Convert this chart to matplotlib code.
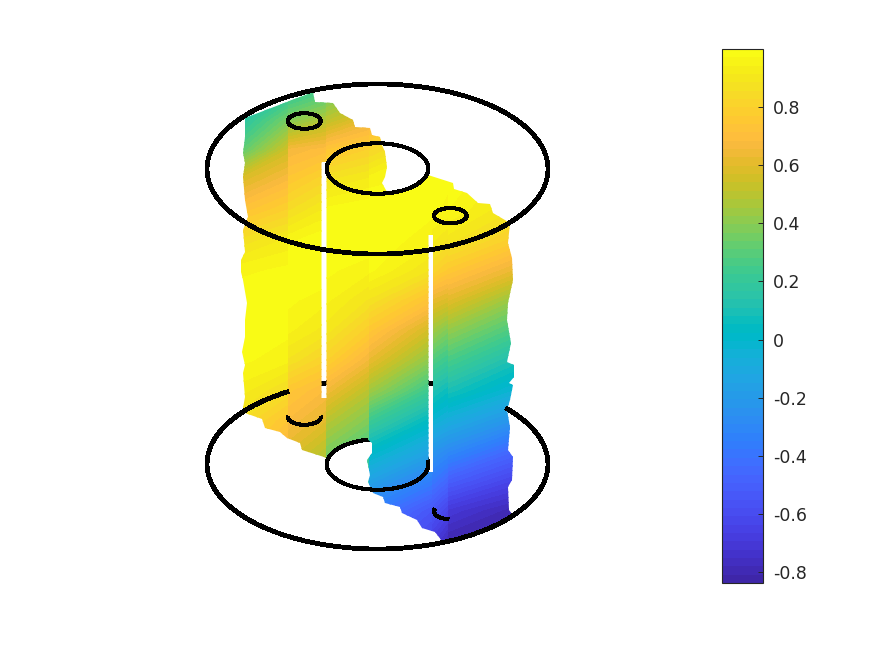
import numpy as np
import matplotlib
matplotlib.use('Agg')
import matplotlib.pyplot as plt
from matplotlib.colors import LinearSegmentedColormap, Normalize
from matplotlib.cm import ScalarMappable
from matplotlib.patches import Arc, Ellipse
from matplotlib.path import Path

## slice through a flange with holes, viewed in perspective

# parula colours
parula = [
    (0.2422, 0.1504, 0.6603), (0.2504, 0.1650, 0.7076), (0.2578, 0.1818, 0.7511), (0.2647, 0.1978, 0.7952),
    (0.2706, 0.2147, 0.8364), (0.2751, 0.2342, 0.8710), (0.2783, 0.2559, 0.8991), (0.2803, 0.2782, 0.9221),
    (0.2813, 0.3006, 0.9414), (0.2810, 0.3228, 0.9579), (0.2795, 0.3447, 0.9717), (0.2760, 0.3667, 0.9829),
    (0.2699, 0.3892, 0.9906), (0.2602, 0.4123, 0.9952), (0.2440, 0.4358, 0.9988), (0.2206, 0.4603, 0.9973),
    (0.1963, 0.4847, 0.9892), (0.1834, 0.5074, 0.9798), (0.1786, 0.5289, 0.9682), (0.1764, 0.5499, 0.9520),
    (0.1687, 0.5703, 0.9359), (0.1540, 0.5902, 0.9218), (0.1460, 0.6091, 0.9079), (0.1380, 0.6276, 0.8973),
    (0.1248, 0.6459, 0.8883), (0.1113, 0.6635, 0.8763), (0.0952, 0.6798, 0.8598), (0.0689, 0.6948, 0.8394),
    (0.0297, 0.7082, 0.8163), (0.0036, 0.7203, 0.7917), (0.0067, 0.7312, 0.7660), (0.0433, 0.7411, 0.7394),
    (0.0964, 0.7500, 0.7120), (0.1408, 0.7584, 0.6842), (0.1717, 0.7670, 0.6554), (0.1938, 0.7758, 0.6251),
    (0.2161, 0.7843, 0.5923), (0.2470, 0.7918, 0.5567), (0.2906, 0.7973, 0.5188), (0.3406, 0.8008, 0.4789),
    (0.3909, 0.8029, 0.4354), (0.4456, 0.8024, 0.3909), (0.5044, 0.7993, 0.3480), (0.5616, 0.7942, 0.3045),
    (0.6174, 0.7876, 0.2612), (0.6720, 0.7793, 0.2227), (0.7242, 0.7698, 0.1910), (0.7738, 0.7598, 0.1646),
    (0.8203, 0.7498, 0.1535), (0.8634, 0.7406, 0.1596), (0.9035, 0.7330, 0.1774), (0.9393, 0.7288, 0.2100),
    (0.9728, 0.7298, 0.2394), (0.9956, 0.7434, 0.2371), (0.9970, 0.7659, 0.2199), (0.9952, 0.7861, 0.1967),
    (0.9892, 0.8086, 0.1816), (0.9786, 0.8318, 0.1700), (0.9676, 0.8561, 0.1533), (0.9598, 0.8813, 0.1340),
    (0.9610, 0.9060, 0.1100), (0.9650, 0.9310, 0.0960), (0.9720, 0.9580, 0.0860), (0.9769, 0.9839, 0.0805),
]

vmin = -0.838
vmax = 1.0
cbar_ticks = [-0.8, -0.6, -0.4, -0.2, 0, 0.2, 0.4, 0.6, 0.8]
cbar_labels = ['-0.8', '-0.6', '-0.4', '-0.2', '0', '0.2', '0.4', '0.6', '0.8']

# heights the values were read at (image rows)
rows = [85, 120, 150, 180, 210, 240, 270, 300, 330, 360, 390, 420, 450, 480, 510, 545]

# the slice is made of strips, each strip read along its left and right side
strip_a_x = [240, 288]
strip_a_l = [0.05, 0.15, 0.30, 0.58, 0.72, 0.86, 0.96, 1.00, 1.00, 0.98, 0.93, 0.86, 0.80, 0.70, 0.60, 0.50]
strip_a_r = [0.12, 0.36, 0.55, 0.68, 0.80, 0.92, 0.98, 1.00, 0.98, 0.95, 0.85, 0.74, 0.65, 0.55, 0.45, 0.35]
strip_b_x = [288, 326]
strip_b_l = [0.14, 0.38, 0.66, 0.75, 0.85, 0.96, 1.00, 0.98, 0.95, 0.88, 0.75, 0.68, 0.60, 0.50, 0.40, 0.30]
strip_b_r = [0.22, 0.48, 0.70, 0.82, 0.92, 1.00, 1.00, 0.95, 0.90, 0.80, 0.68, 0.60, 0.50, 0.40, 0.30, 0.20]
strip_c_x = [326, 369]
strip_c_l = [0.28, 0.50, 0.74, 0.88, 0.98, 1.00, 0.98, 0.95, 0.90, 0.80, 0.65, 0.50, 0.38, 0.25, 0.10, 0.00]
strip_c_r = [0.40, 0.62, 0.80, 0.92, 1.00, 1.00, 0.95, 0.88, 0.78, 0.65, 0.50, 0.38, 0.25, 0.10, 0.00, -0.10]
strip_d_x = [369, 432]
strip_d_l = [0.45, 0.64, 0.82, 0.96, 1.00, 1.00, 0.98, 0.88, 0.75, 0.62, 0.45, 0.23, 0.03, -0.15, -0.35, -0.50]
strip_d_r = [0.70, 0.85, 0.95, 0.98, 0.98, 0.95, 0.88, 0.72, 0.55, 0.40, 0.22, 0.03, -0.14, -0.35, -0.55, -0.65]
strip_e_x = [432, 448]
strip_e_l = [0.80, 0.90, 0.96, 1.00, 0.98, 0.92, 0.82, 0.62, 0.45, 0.28, 0.12, -0.03, -0.22, -0.38, -0.55, -0.70]
strip_e_r = [0.80, 0.90, 0.96, 0.98, 0.96, 0.88, 0.76, 0.58, 0.38, 0.22, 0.06, -0.08, -0.28, -0.46, -0.64, -0.80]
strip_f_x = [448, 515]
strip_f_l = [0.80, 0.90, 0.96, 1.00, 0.97, 0.90, 0.76, 0.60, 0.42, 0.26, 0.10, -0.08, -0.28, -0.50, -0.70, -0.83]
strip_f_r = [0.70, 0.82, 0.90, 0.92, 0.88, 0.78, 0.62, 0.42, 0.26, 0.10, -0.04, -0.24, -0.46, -0.64, -0.80, -0.838]

strips = [
    (strip_a_x, strip_a_l, strip_a_r), (strip_b_x, strip_b_l, strip_b_r), (strip_c_x, strip_c_l, strip_c_r),
    (strip_d_x, strip_d_l, strip_d_r), (strip_e_x, strip_e_l, strip_e_r), (strip_f_x, strip_f_l, strip_f_r),
]

# jagged outline of the slice
outline = [
    (245, 118), (313, 92), (315, 102), (333, 103), (340, 113), (353, 120), (355, 127), (370, 128), (372, 135),
    (380, 137), (382, 145), (385, 152), (387, 167), (385, 177), (382, 183), (387, 192), (400, 193), (410, 190),
    (417, 187), (423, 182), (428, 175), (453, 183), (454, 189), (467, 193), (478, 203), (490, 204), (493, 213),
    (510, 223), (508, 243), (512, 258), (513, 280), (508, 303), (507, 320), (511, 343), (507, 362), (514, 365),
    (514, 377), (509, 383), (513, 385), (510, 400), (507, 410), (510, 427), (508, 450), (513, 457), (512, 480),
    (508, 487), (509, 510), (512, 514), (490, 528), (470, 535), (442, 541), (435, 532), (422, 528), (417, 520),
    (402, 513), (400, 507), (385, 503), (383, 497), (373, 493), (368, 482), (370, 475), (367, 460), (372, 453),
    (372, 443), (366, 438), (350, 442), (335, 450), (327, 459), (324, 457), (302, 450), (300, 443), (287, 438),
    (280, 432), (265, 428), (262, 419), (245, 413), (243, 408), (245, 397), (243, 373), (245, 365), (242, 352),
    (245, 337), (245, 320), (247, 303), (243, 280), (241, 272), (241, 260), (245, 252), (243, 230), (248, 217),
    (245, 200), (243, 177), (245, 163), (243, 153), (245, 137),
]
gap_1 = [(321.5, 162), (321.5, 398), (326.5, 398), (326.5, 162)]
gap_2 = [(428.5, 235), (428.5, 472), (433, 472), (433, 235)]

fig = plt.figure(figsize=(8.75, 6.56), dpi=100)
ax = fig.add_axes([0, 0, 1, 1])
ax.set_xlim(0, 875)
ax.set_ylim(656, 0)
ax.axis('off')

cmap = LinearSegmentedColormap.from_list('parula', parula, N=64)
norm = Normalize(vmin=vmin, vmax=vmax)
levels = np.linspace(vmin, vmax + 1e-4, 65)

lw_big = 2.7
lw_small = 2.2


def ring(cx, cy, w, h, lw, z):
    ax.add_patch(Ellipse((cx, cy), w, h, fill=False, ec='k', lw=lw, zorder=z, antialiased=False))


def arc(cx, cy, w, h, t1, t2, lw):
    ax.add_patch(Arc((cx, cy), w, h, theta1=t1, theta2=t2, ec='k', lw=lw, zorder=5, antialiased=False))


# bottom circles, behind the slice
ring(377.5, 464, 341, 170, lw_big, 1)
ring(377.5, 464.5, 101.5, 50.5, lw_small, 1)

# the slice
def closed(pts):
    return Path(pts + [pts[0]], closed=True)


clip = Path.make_compound_path(closed(outline), closed(gap_1), closed(gap_2))
for xs, left, right in strips:
    Z = np.column_stack([left, right])
    cs = ax.contourf(xs, rows, Z, levels=levels, cmap=cmap, norm=norm, zorder=2, antialiased=False)
    cs.set_clip_path(clip, transform=ax.transData)

# bottom circles, parts in front of the slice (Arc angles are true angles on the ellipse)
arc(377.5, 464, 341, 170, -23.6, 219.2, lw_big)
arc(377.5, 464.5, 101.5, 50.5, -4.3, 247.6, lw_small)
arc(304.3, 417, 33, 15.5, -3, 183, lw_small)
arc(450.3, 511.5, 32.7, 15.3, 100, 190, lw_small)

# top circles
ring(377.5, 169, 341, 170, lw_big, 5)
ring(377.5, 168.5, 101.5, 50.5, lw_small, 5)
ring(304.3, 121, 33, 15.5, lw_small, 5)
ring(450.3, 215.7, 32.7, 15.3, lw_small, 5)

# colorbar
cax = fig.add_axes([722 / 875, 1 - 583 / 656, 41 / 875, 534 / 656])
cb = fig.colorbar(ScalarMappable(norm=norm, cmap=cmap), cax=cax)
cb.set_ticks(cbar_ticks)
cb.set_ticklabels(cbar_labels)
cb.ax.tick_params(direction='in', length=3.6, width=0.7, color='#262626', labelcolor='#262626', labelsize=12.5, pad=7)
cb.outline.set_edgecolor('#262626')
cb.outline.set_linewidth(0.8)

plt.savefig('out.png', dpi=100)
